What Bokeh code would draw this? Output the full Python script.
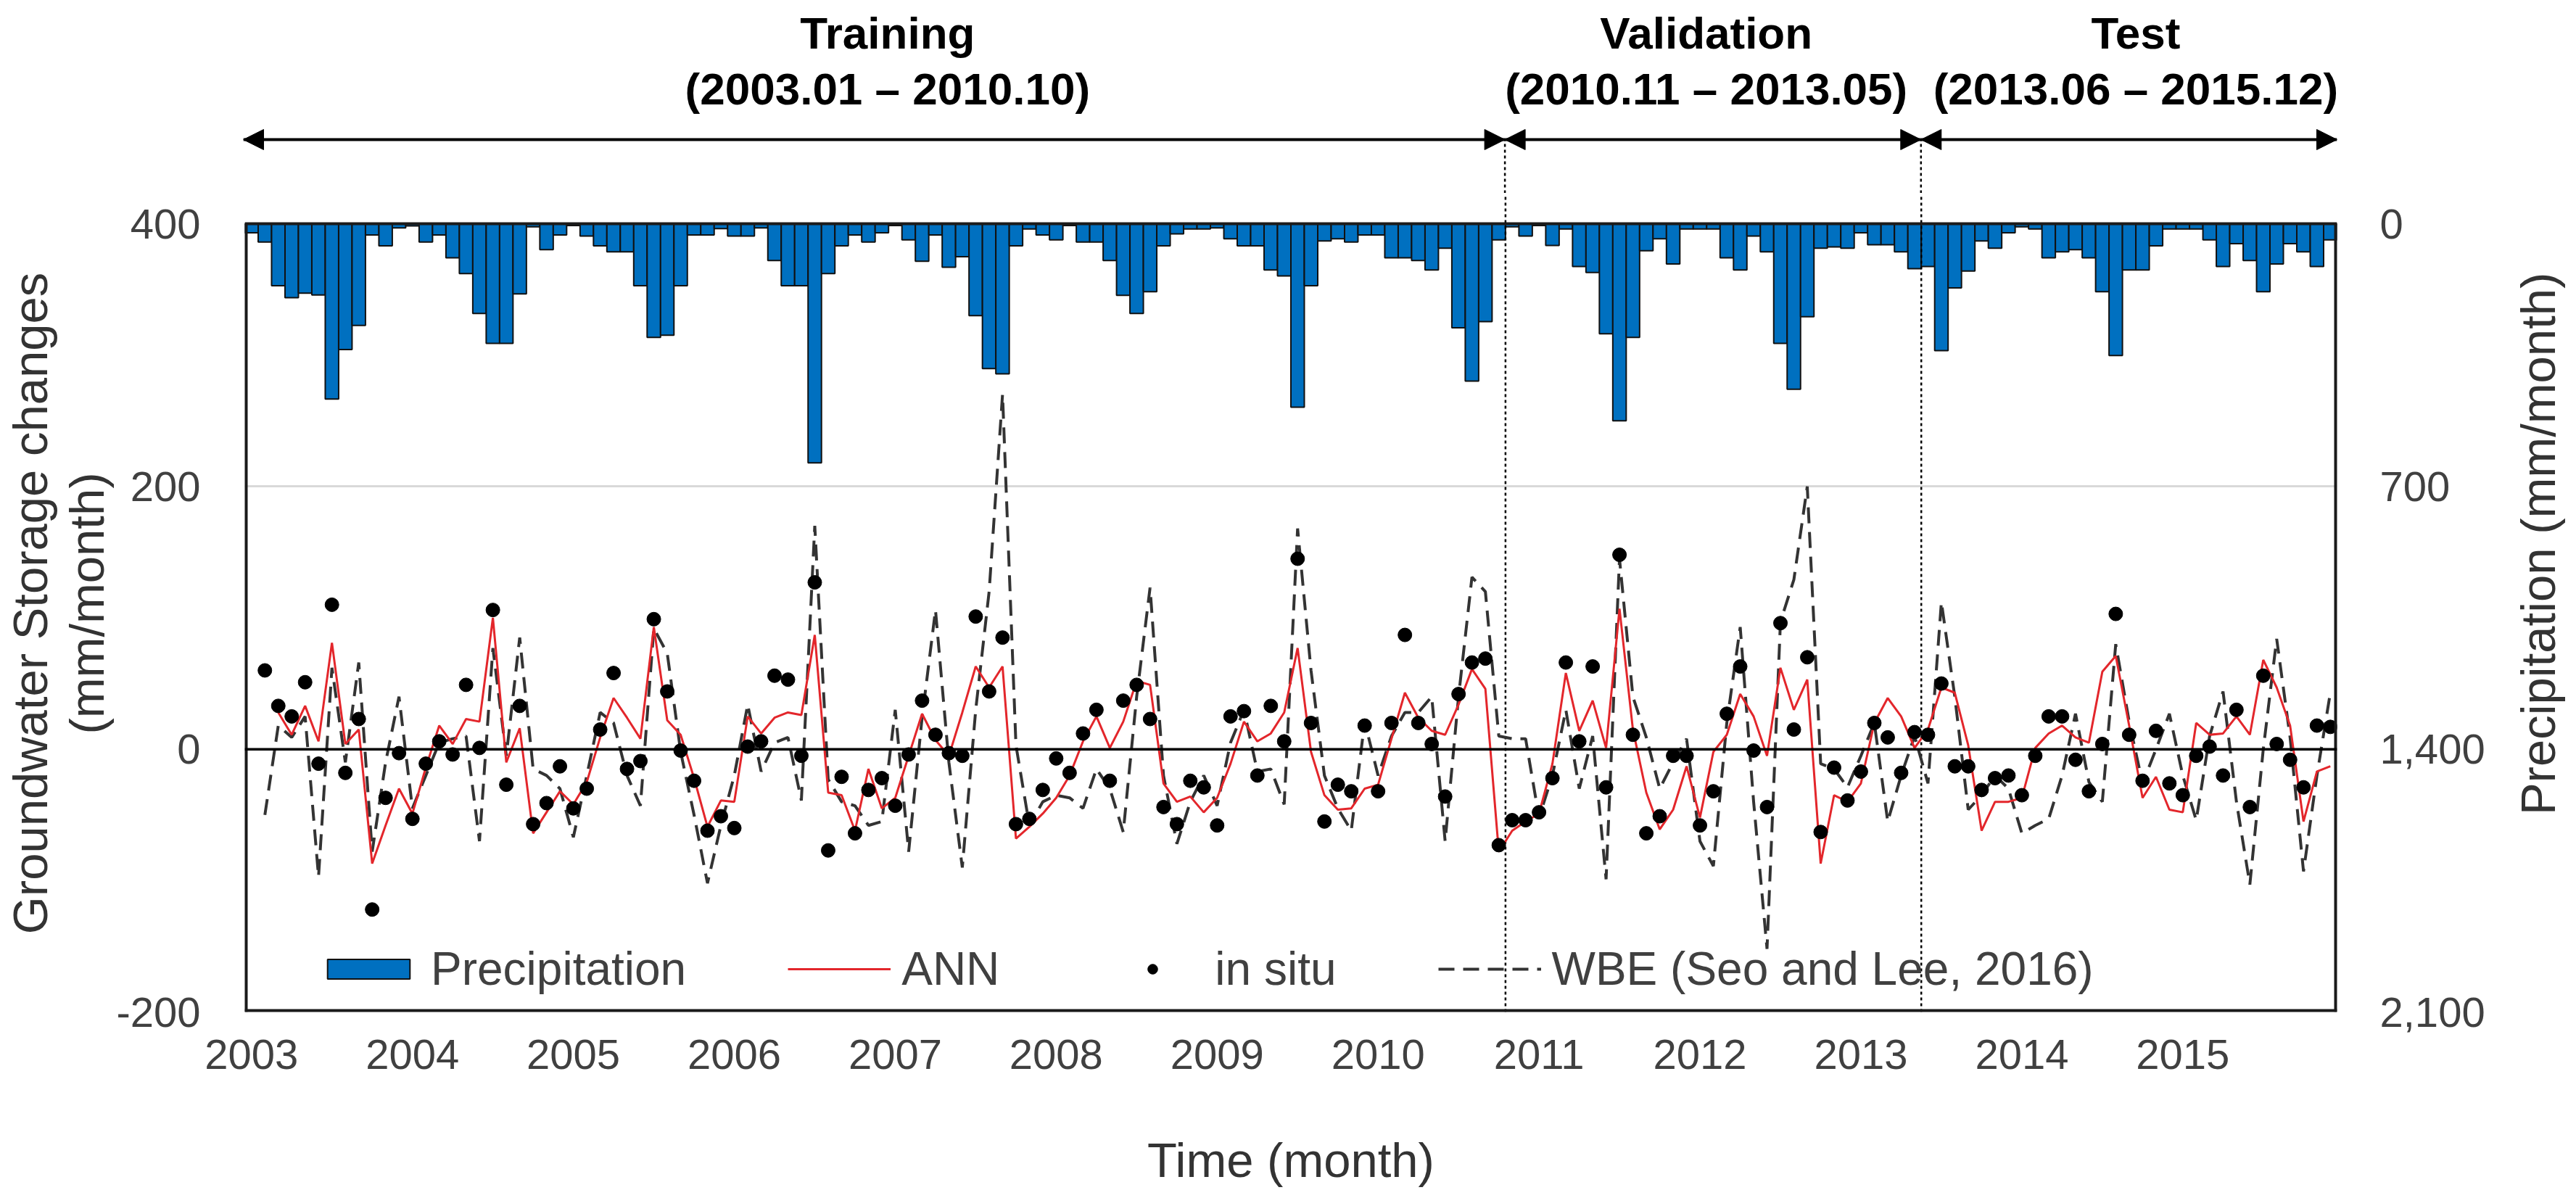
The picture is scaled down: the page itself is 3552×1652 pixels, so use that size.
import numpy as np
from bokeh.plotting import figure
from bokeh.layouts import column, row
from bokeh.models import (Range1d, LinearAxis, FixedTicker, NumeralTickFormatter, Span,
                          Legend, LegendItem)
from bokeh.core.properties import value
from bokeh.embed import file_html
from bokeh.resources import INLINE

# ---------------- data (monthly, 2003.01 - 2015.12) ----------------
months = list(range(156))
year_labels = [str(y) for y in range(2003, 2016)]

precip = [24, 49, 165, 197, 185, 190, 467, 335, 271, 30, 59, 11,
          6, 49, 30, 91, 133, 239, 319, 319, 187, 8, 69, 30,
          5, 33, 59, 75, 75, 165, 303, 297, 165, 30, 30, 13,
          33, 33, 11, 98, 165, 165, 637, 133, 59, 30, 49, 24,
          5, 43, 100, 30, 116, 88, 245, 386, 400, 59, 14, 30,
          43, 5, 49, 49, 98, 191, 239, 181, 59, 27, 14, 14,
          11, 40, 59, 59, 123, 139, 489, 165, 46, 40, 49, 30,
          30, 91, 91, 98, 123, 65, 277, 419, 261, 43, 8, 33,
          5, 58, 14, 114, 130, 293, 525, 303, 72, 40, 107, 14,
          14, 14, 91, 123, 33, 75, 319, 441, 248, 65, 62, 65,
          24, 56, 56, 75, 120, 114, 338, 171, 126, 46, 65, 24,
          8, 14, 91, 75, 69, 91, 181, 351, 123, 123, 59, 14,
          14, 14, 43, 114, 53, 98, 181, 107, 53, 75, 114, 43]

in_situ = [None, 60, 33, 25, 51, -11, 110, -18, 23, -122, -37, -3,
           -53, -11, 6, -4, 49, 1, 106, -27, 33, -57, -41, -13,
           -45, -30, 15, 58, -15, -9, 99, 44, -1, -24, -62, -51,
           -60, 2, 6, 56, 53, -5, 127, -77, -21, -64, -31, -22,
           -43, -4, 37, 11, -3, -5, 101, 44, 85, -57, -53, -31,
           -7, -18, 12, 30, -24, 37, 49, 23, -44, -57, -24, -29,
           -58, 25, 29, -20, 33, 6, 145, 20, -55, -27, -32, 18,
           -32, 20, 87, 20, 4, -36, 42, 66, 69, -73, -54, -54,
           -48, -22, 66, 6, 63, -29, 148, 11, -64, -51, -5, -5,
           -58, -32, 27, 63, -1, -44, 96, 15, 70, -63, -14, -39,
           -17, 20, 9, -18, 13, 11, 50, -13, -13, -31, -22, -20,
           -35, -5, 25, 25, -8, -32, 4, 103, 11, -24, 14, -26,
           -35, -5, 2, -20, 30, -44, 56, 4, -8, -29, 18, 17]

ann = [None, None, 28, 11, 33, 6, 81, 4, 15, -87, -58, -30,
       -49, -14, 18, 4, 23, 21, 100, -10, 16, -64, -48, -32,
       -42, -25, 9, 39, 24, 8, 93, 22, 11, -22, -59, -39,
       -40, 25, 12, 24, 28, 26, 87, -33, -35, -62, -15, -45,
       -37, -5, 27, 7, -5, 28, 63, 47, 63, -68, -59, -49,
       -37, -20, 6, 25, 1, 21, 52, 49, -26, -40, -36, -48,
       -37, -11, 21, 6, 12, 28, 77, -2, -35, -46, -45, -30,
       -27, 8, 43, 24, 14, 11, 34, 61, 46, -78, -62, -55,
       -49, -11, 58, 14, 37, 1, 107, 15, -33, -61, -46, -13,
       -52, -2, 11, 42, 25, -5, 62, 30, 53, -87, -35, -40,
       -26, 20, 39, 25, 1, 15, 47, 43, 3, -62, -40, -40,
       -37, 1, 12, 18, 9, 5, 59, 71, 18, -37, -21, -46,
       -48, 20, 11, 12, 25, 11, 68, 47, 18, -55, -17, -13]

wbe = [None, -50, 18, 9, 25, -97, 62, -10, 66, -78, -10, 40,
       -45, -20, 5, 8, 10, -70, 77, -5, 85, -15, -20, -30,
       -67, -20, 28, 20, -20, -43, 92, 73, -2, -50, -102, -58,
       -20, 34, -17, 5, 9, -39, 170, -23, -40, -43, -58, -55,
       30, -78, 24, 106, -10, -90, 30, 120, 270, 3, -58, -40,
       -35, -37, -45, -15, -30, -63, 40, 123, -20, -72, -40, -20,
       -43, 5, 30, -17, -15, -42, 168, 60, -20, -45, -62, 21,
       -20, 10, 28, 28, 40, -70, 40, 131, 120, 10, 8, 8,
       -52, -20, 30, -30, 10, -99, 145, 40, 9, -30, -10, 8,
       -70, -89, 20, 93, -40, -152, 97, 129, 200, -11, -15, -29,
       -5, 20, -55, -20, 10, -26, 112, 40, -46, -35, -20, -30,
       -64, -58, -53, -20, 27, -25, -40, 80, 21, -26, 0, 27,
       -20, -54, 10, 44, -40, -103, 0, 84, 9, -93, -20, 43]

periods = ["Training", "Validation", "Test"]
period_ranges = ["(2003.01 \u2013 2010.10)", "(2010.11 \u2013 2013.05)", "(2013.06 \u2013 2015.12)"]
period_starts = [-0.5, 93.5, 124.5]
period_ends = [93.5, 124.5, 155.5]
period_centers = [47.5, 108.5, 140.5]
dividers = [93.5, 124.5]


def arr(v):
    return np.array([np.nan if x is None else x for x in v], dtype=float)


FONT = "Liberation Sans"
TICK_COLOR = "#404040"
TITLE_COLOR = "#333333"
FRAME_COLOR = "#1a1a1a"

PAGE_W, PAGE_H = 3552, 1652
LEFT, RIGHT = 335, 330            # page space left / right of the plot box
SIDE_W = 106                      # strip holding the right axis title
TOP_H = 266                       # header strip height
BOX_TOP, BOX_BOTTOM = 308, 1395   # page y of the 400 / -200 levels
EXTRA = BOX_TOP - TOP_H - 2       # frame space kept above the 400 level

xr = Range1d(-0.5, 155.5)
unit_px = (BOX_BOTTOM - BOX_TOP) / 600.0
y_top = 400 + EXTRA / unit_px
p_top = -EXTRA * 2100.0 / (BOX_BOTTOM - BOX_TOP)

# ---------------- header strip: period arrows and titles ----------------
top = figure(width=PAGE_W, height=TOP_H, x_range=xr, y_range=Range1d(0, TOP_H),
             output_backend="svg", toolbar_location=None,
             x_axis_location=None, y_axis_location=None,
             min_border_left=LEFT, min_border_right=RIGHT,
             min_border_top=0, min_border_bottom=0, outline_line_color=None,
             background_fill_color="white", border_fill_color="white")
top.grid.visible = False

ARROW_Y = TOP_H - 192
px_per_month = (PAGE_W - LEFT - RIGHT) / 156.0
head_len = 28 / px_per_month
head_half = 14
top.segment(x0=period_starts, y0=[ARROW_Y] * 3, x1=period_ends, y1=[ARROW_Y] * 3,
            line_color="black", line_width=4)
head_xs, head_ys = [], []
for a, b in zip(period_starts, period_ends):
    head_xs.append([a, a + head_len, a + head_len])
    head_ys.append([ARROW_Y, ARROW_Y + head_half, ARROW_Y - head_half])
    head_xs.append([b, b - head_len, b - head_len])
    head_ys.append([ARROW_Y, ARROW_Y + head_half, ARROW_Y - head_half])
top.patches(head_xs, head_ys, fill_color="black", line_color="black", line_width=1)
top.segment(x0=dividers, y0=[0, 0], x1=dividers, y1=[ARROW_Y, ARROW_Y],
            line_color="black", line_width=2.5, line_dash="4 4")
top.text(x=period_centers, y=[TOP_H - 45] * 3, text=periods, text_align="center",
         text_baseline="middle", text_font=value(FONT), text_font_size=value("62px"),
         text_font_style="bold", text_color="black")
top.text(x=period_centers, y=[TOP_H - 122] * 3, text=period_ranges, text_align="center",
         text_baseline="middle", text_font=value(FONT), text_font_size=value("62px"),
         text_font_style="bold", text_color="black")

# ---------------- main chart ----------------
MAIN_H = PAGE_H - TOP_H
p = figure(width=PAGE_W - SIDE_W, height=MAIN_H, output_backend="svg", toolbar_location=None,
           x_range=xr, y_range=Range1d(-200, y_top),
           min_border_left=LEFT, min_border_right=RIGHT - SIDE_W, min_border_top=2,
           min_border_bottom=PAGE_H - BOX_BOTTOM, background_fill_color="white",
           border_fill_color="white", outline_line_color=None)
p.extra_y_ranges = {"precip": Range1d(2100, p_top)}

p.xgrid.visible = False
p.ygrid.ticker = FixedTicker(ticks=[200])
p.ygrid.grid_line_color = "#d9d9d9"
p.ygrid.grid_line_width = 3

bars = p.vbar(x=months, width=1.0, top=precip, bottom=0, y_range_name="precip",
              fill_color="#0070C0", line_color="#111111", line_width=2)

p.add_layout(Span(location=0, dimension="width", line_color="black", line_width=3.5))
p.segment(x0=dividers, y0=[-200, -200], x1=dividers, y1=[y_top, y_top],
          line_color="black", line_width=2.5, line_dash="4 4")

wbe_r = p.line(months, arr(wbe), line_color="#333333", line_width=4, line_dash="22 12")
ann_r = p.line(months, arr(ann), line_color="#E3262B", line_width=3)
dots = p.scatter(months, arr(in_situ), size=19, fill_color="black", line_color="black")

# plot box (400 .. -200)
p.segment(x0=[-0.5, 155.5, -0.5], y0=[-200, -200, -200], x1=[-0.5, 155.5, 155.5],
          y1=[400, 400, -200], line_color=FRAME_COLOR, line_width=8)
p.segment(x0=[-0.5], y0=[400], x1=[155.5], y1=[400], line_color=FRAME_COLOR, line_width=4)

xa = p.xaxis[0]
xa.ticker = FixedTicker(ticks=[12 * k for k in range(13)])
xa.major_label_overrides = {12 * k: year_labels[k] for k in range(13)}
xa.axis_label = "Time (month)"
xa.major_label_standoff = 32
xa.axis_label_standoff = 85

ya = p.yaxis[0]
ya.ticker = FixedTicker(ticks=[-200, 0, 200, 400])
ya.major_label_overrides = {-200: "-200", 0: "0", 200: "200", 400: "400"}
ya.axis_label = "Groundwater Storage changes\n(mm/month)"
ya.major_label_standoff = 55
ya.axis_label_standoff = 0

ra = LinearAxis(y_range_name="precip", ticker=FixedTicker(ticks=[0, 700, 1400, 2100]),
                formatter=NumeralTickFormatter(format="0,0"))
ra.major_label_standoff = 53
p.add_layout(ra, "right")

for ax in [xa, ya, ra]:
    ax.major_tick_line_color = None
    ax.minor_tick_line_color = None
    ax.axis_line_color = None
    ax.major_label_text_font = FONT
    ax.major_label_text_font_size = "58px"
    ax.major_label_text_color = TICK_COLOR
    ax.axis_label_text_font = FONT
    ax.axis_label_text_font_size = "67px"
    ax.axis_label_text_font_style = "normal"
    ax.axis_label_text_color = TITLE_COLOR
    ax.axis_label_text_line_height = 1.05

legend = Legend(items=[LegendItem(label="Precipitation", renderers=[bars]),
                       LegendItem(label="ANN", renderers=[ann_r]),
                       LegendItem(label="in situ", renderers=[dots]),
                       LegendItem(label="WBE (Seo and Lee, 2016)", renderers=[wbe_r])],
                orientation="horizontal", location=(100, 22), padding=0, margin=0,
                spacing=140, label_standoff=15, glyph_width=142, glyph_height=34,
                border_line_color=None, background_fill_alpha=0,
                label_text_font=FONT, label_text_font_size="64px",
                label_text_color=TICK_COLOR)
p.add_layout(legend)

# ---------------- right strip: precipitation axis title ----------------
side = figure(width=SIDE_W, height=MAIN_H, x_range=Range1d(0, SIDE_W),
              y_range=Range1d(0, MAIN_H), output_backend="svg", toolbar_location=None,
              x_axis_location=None, y_axis_location=None, min_border=0,
              outline_line_color=None, background_fill_color="white",
              border_fill_color="white")
side.grid.visible = False
side.text(x=[SIDE_W / 2], y=[PAGE_H - 858], text=["Precipitation (mm/month)"],
          angle=np.pi / 2, text_align="center", text_baseline="middle",
          text_font=value(FONT), text_font_size=value("67px"), text_color=TITLE_COLOR)

layout = column(top, row(p, side, spacing=0), spacing=0)
open("out.html", "w").write(file_html(layout, INLINE))
